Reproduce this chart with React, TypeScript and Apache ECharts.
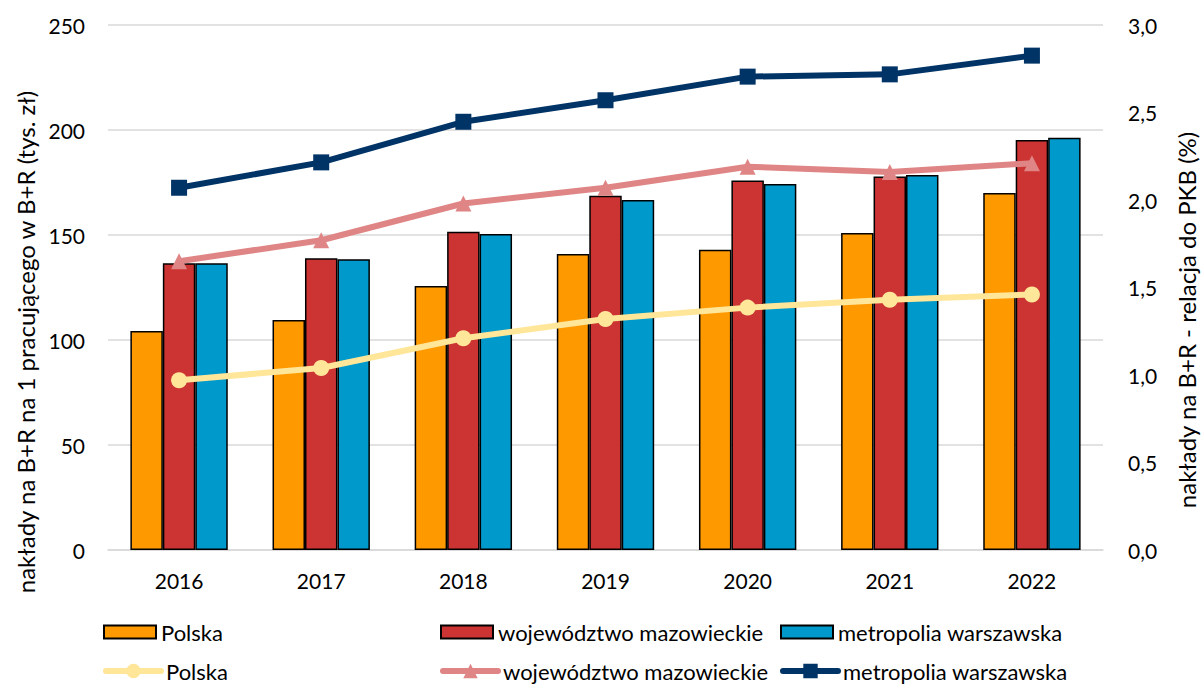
import React, { useEffect, useRef } from "react";
import * as echarts from "echarts";

const years = ["2016", "2017", "2018", "2019", "2020", "2021", "2022"];
const polskaBar = [104.3, 109.5, 125.7, 141, 143, 151, 170];
const wojBar = [136.5, 138.9, 151.6, 168.7, 175.9, 177.8, 195.2];
const metroBar = [136.5, 138.4, 150.5, 166.7, 174.3, 178.6, 196.3];
const polskaLine = [0.97, 1.04, 1.21, 1.32, 1.385, 1.43, 1.46];
const wojLine = [1.65, 1.77, 1.98, 2.07, 2.19, 2.16, 2.21];
const metroLine = [2.07, 2.215, 2.447, 2.57, 2.705, 2.718, 2.825];

const leftTitle = "nakłady na B+R na 1 pracującego w B+R (tys. zł)";
const rightTitle = "nakłady na B+R - relacja do PKB (%)";

const FONT = "Lato";
const TXT = "#000000";

export default function App() {
  const ref = useRef<HTMLDivElement>(null);
  useEffect(() => {
    document.body.style.margin = "0";
    const chart = echarts.init(ref.current!, null, { renderer: "svg" });
    const legendText = { fontFamily: FONT, fontSize: 22, color: TXT, lineHeight: 24 };
    const mkLegend = (name: string, left: number, top: number, isBar: boolean) => ({
      data: [{ name }],
      left,
      top,
      padding: 0,
      itemWidth: isBar ? 52 : 55,
      itemHeight: isBar ? 13 : 18,
      itemGap: 5,
      icon: isBar ? "rect" : undefined,
      lineStyle: isBar ? undefined : { width: 6, cap: "round" },
      textStyle: legendText,
      selectedMode: false,
    });
    const barStyle = (color: string) => ({
      color,
      borderColor: "#000000",
      borderWidth: 1.5,
    });
    const option: any = {
      animation: false,
      backgroundColor: "#ffffff",
      grid: { left: 108, right: 99, top: 25, bottom: 136, containLabel: false },
      legend: [
        mkLegend("Polska", 103, 620, true),
        mkLegend("województwo mazowieckie", 440, 620, true),
        mkLegend("metropolia warszawska", 780, 620, true),
        mkLegend("Polska ", 103, 659, false),
        mkLegend("województwo mazowieckie ", 440, 659, false),
        mkLegend("metropolia warszawska ", 780, 659, false),
      ],
      xAxis: {
        type: "category",
        data: years,
        axisTick: { show: false },
        axisLine: { show: true, lineStyle: { color: "#D9D9D9", width: 1.5 } },
        axisLabel: { fontFamily: FONT, fontSize: 21, color: TXT, margin: 20 },
      },
      yAxis: [
        {
          type: "value",
          min: 0,
          max: 250,
          interval: 50,
          axisLine: { show: false },
          axisTick: { show: false },
          axisLabel: { fontFamily: FONT, fontSize: 21, color: TXT, margin: 23 },
          splitLine: { show: true, lineStyle: { color: "#D9D9D9", width: 1.5 } },
        },
        {
          type: "value",
          min: 0,
          max: 3,
          interval: 0.5,
          axisLine: { show: false },
          axisTick: { show: false },
          splitLine: { show: false },
          axisLabel: {
            fontFamily: FONT,
            fontSize: 21,
            color: TXT,
            margin: 25,
            formatter: (v: number) => v.toFixed(1).replace(".", ","),
          },
        },
      ],
      series: [
        {
          name: "Polska",
          type: "bar",
          data: polskaBar,
          barGap: "0%",
          barCategoryGap: "31.5%",
          itemStyle: barStyle("#FF9900"),
        },
        {
          name: "województwo mazowieckie",
          type: "bar",
          data: wojBar,
          barGap: "0%",
          barCategoryGap: "31.5%",
          itemStyle: barStyle("#CC3333"),
        },
        {
          name: "metropolia warszawska",
          type: "bar",
          data: metroBar,
          barGap: "0%",
          barCategoryGap: "31.5%",
          itemStyle: barStyle("#0099CC"),
        },
        {
          name: "Polska ",
          type: "line",
          yAxisIndex: 1,
          data: polskaLine,
          symbol: "circle",
          symbolSize: 16,
          z: 5,
          lineStyle: { color: "#FFE699", width: 6 },
          itemStyle: { color: "#FFE699" },
        },
        {
          name: "województwo mazowieckie ",
          type: "line",
          yAxisIndex: 1,
          data: wojLine,
          symbol: "triangle",
          symbolSize: 16,
          z: 5,
          lineStyle: { color: "#E08585", width: 6 },
          itemStyle: { color: "#E08585" },
        },
        {
          name: "metropolia warszawska ",
          type: "line",
          yAxisIndex: 1,
          data: metroLine,
          symbol: "rect",
          symbolSize: 16,
          z: 5,
          lineStyle: { color: "#003366", width: 6 },
          itemStyle: { color: "#003366" },
        },
      ],
      graphic: [
        {
          type: "text",
          x: 25,
          y: 342,
          rotation: Math.PI / 2,
          style: {
            text: leftTitle,
            fontFamily: FONT,
            fontSize: 24,
            fill: TXT,
            textAlign: "center",
            textVerticalAlign: "middle",
          },
        },
        {
          type: "text",
          x: 1186,
          y: 320,
          rotation: Math.PI / 2,
          style: {
            text: rightTitle,
            fontFamily: FONT,
            fontSize: 24,
            fill: TXT,
            textAlign: "center",
            textVerticalAlign: "middle",
          },
        },
      ],
    };
    chart.setOption(option);
    return () => chart.dispose();
  }, []);
  return <div ref={ref} style={{ width: 1202, height: 686 }} />;
}
